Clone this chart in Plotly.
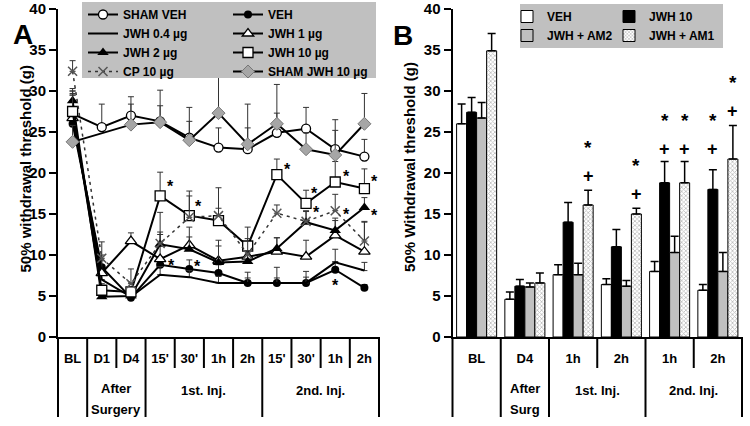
import plotly.graph_objects as go

FONT = "Liberation Sans"

# ---------------- Panel A data ----------------
time_labels = ["BL", "D1", "D4", "15'", "30'", "1h", "2h", "15'", "30'", "1h", "2h"]
group_labels_a = ["After", "Surgery", "1st. Inj.", "2nd. Inj."]

sham_veh = [27.2, 25.6, 27.0, 26.3, 24.3, 23.1, 22.9, 24.9, 25.4, 22.9, 22.0]
sham_veh_err = [2.8, 2.8, 2.3, 1.9, 2.0, 2.4, 2.6, 2.4, 2.6, 3.6, 2.1]
veh = [26.0, 8.5, 4.8, 8.8, 8.3, 7.8, 6.6, 6.6, 6.6, 8.2, 6.0]
veh_err = [3.5, 1.5, 0.5, 1.0, 1.1, 1.0, 1.3, 1.9, 1.4, 1.0, 0.4]
jwh04 = [27.0, 7.0, 4.9, 7.6, 7.3, 6.6, 6.6, 6.6, 6.6, 9.1, 8.1]
jwh04_err = [2.5, 1.0, 0.5, 1.0, 0.8, 0.8, 0.6, 0.6, 0.7, 1.6, 1.0]
jwh1 = [26.7, 7.8, 11.7, 9.5, 11.2, 9.3, 9.8, 10.4, 9.8, 12.4, 10.4]
jwh1_err = [3.0, 1.5, 1.0, 3.0, 2.2, 2.5, 1.5, 1.7, 2.0, 1.8, 3.7]
jwh2 = [28.8, 4.9, 5.0, 11.3, 10.7, 9.1, 9.2, 10.8, 14.0, 13.0, 15.8]
jwh2_err = [1.5, 0.5, 0.4, 1.5, 1.5, 2.0, 1.3, 1.3, 1.3, 1.5, 1.2]
jwh10 = [27.5, 5.7, 5.5, 17.2, 14.8, 14.2, 11.1, 19.8, 16.3, 18.9, 18.1]
jwh10_err = [2.5, 0.8, 0.6, 2.9, 3.0, 1.5, 2.3, 1.9, 1.6, 2.5, 2.4]
cp10 = [32.4, 9.6, 6.5, 11.4, 14.6, 14.8, 10.1, 15.1, 14.1, 15.4, 11.7]
cp10_err = [1.3, 2.0, 1.8, 3.8, 2.6, 3.4, 1.9, 1.0, 1.3, 2.0, 2.3]
sham_jwh = [23.8, None, 25.9, 26.2, 24.0, 27.3, 23.5, 26.0, 22.9, 22.2, 26.0]
sham_jwh_err = [2.0, 0, 2.5, 3.9, 4.0, 4.4, 4.9, 4.8, 2.0, 3.0, 3.7]

# significance asterisks in A: (series, time index, dx px, dy px (down +))
stars_a = [("jwh10", 3, 10, -13), ("jwh10", 4, 9, -13), ("veh", 3, 11, -3),
           ("veh", 4, 8, -6), ("jwh10", 7, 11, -9), ("jwh10", 8, 8, -13),
           ("jwh10", 9, 11, -9), ("jwh10", 10, 10, -11), ("cp10", 8, 10, -12),
           ("cp10", 9, 11, 0), ("jwh2", 10, 10, 5), ("veh", 9, 0, 12)]

# ---------------- Panel B data ----------------
b_labels = ["BL", "D4", "1h", "2h", "1h", "2h"]
b_veh = [26.0, 4.6, 7.6, 6.4, 8.0, 5.7]
b_veh_err = [2.4, 0.9, 1.2, 0.7, 1.2, 0.7]
b_jwh10 = [27.4, 6.2, 14.0, 11.0, 18.8, 18.0]
b_jwh10_err = [1.8, 0.8, 2.4, 2.1, 2.6, 2.4]
b_am2 = [26.7, 6.1, 7.6, 6.2, 10.3, 8.0]
b_am2_err = [1.9, 0.5, 1.4, 0.7, 2.0, 2.3]
b_am1 = [34.9, 6.6, 16.1, 15.0, 18.8, 21.7]
b_am1_err = [2.1, 1.2, 1.8, 0.7, 2.6, 4.1]

b_sig_group = [2, 3, 4, 4, 5, 5]
b_sig_bar = [3, 3, 1, 3, 1, 3]
b_plus_y = [19.6, 17.5, 22.9, 22.9, 22.9, 27.5]
b_star_y = [23.6, 21.4, 26.9, 26.9, 26.9, 31.5]

# ---------------- Layout geometry ----------------
W, H = 750, 426
def px_x(p): return p / W
def px_y(p): return (H - p) / H

AX_TOP, AX_BOT = 9, 337
A_L, A_R = 58, 379
B_L, B_R = 452.5, 742

fig = go.Figure()

xa = list(range(len(time_labels)))
ERR = dict(type="data", symmetric=False, color="#333", thickness=1, width=3)

def add_line(name, ys, err, marker, line, legend):
    fig.add_trace(go.Scatter(
        x=xa, y=ys, name=name, mode="lines+markers" if marker else "lines",
        marker=marker, line=line, connectgaps=True, cliponaxis=False,
        error_y=dict(ERR, array=err, arrayminus=[0] * len(err)),
        xaxis="x", yaxis="y", legend=legend))

BL = dict(color="black", width=2)
add_line("SHAM VEH", sham_veh, sham_veh_err,
         dict(symbol="circle", size=9, color="white", line=dict(color="black", width=1.3)), BL, "legend")
add_line("VEH", veh, veh_err, dict(symbol="circle", size=8, color="black"), BL, "legend3")
add_line("JWH 0.4 µg", jwh04, jwh04_err, None, BL, "legend")
add_line("JWH 1 µg", jwh1, jwh1_err,
         dict(symbol="triangle-up", size=10, color="white", line=dict(color="black", width=1.3)), BL, "legend3")
add_line("JWH 2 µg", jwh2, jwh2_err, dict(symbol="triangle-up", size=10, color="black"), BL, "legend")
add_line("JWH 10 µg", jwh10, jwh10_err,
         dict(symbol="square", size=10, color="white", line=dict(color="black", width=1.3)), BL, "legend3")
add_line("CP 10 µg", cp10, cp10_err,
         dict(symbol="x-thin", size=9, color="#555", line=dict(color="#555", width=1.5)),
         dict(color="#333", width=1.5, dash="3px,4px"), "legend")
add_line("SHAM JWH 10 µg", sham_jwh, sham_jwh_err,
         dict(symbol="diamond", size=10, color="#a6a6a6", line=dict(color="#777", width=1)), BL, "legend3")

# ---------------- Panel B bars ----------------
xb = list(range(len(b_labels)))
BARGAP = 0.17
bw = (1 - BARGAP) / 4
bar_specs = [
    ("VEH", b_veh, b_veh_err, dict(color="white", line=dict(color="black", width=1)), "legend2"),
    ("JWH 10", b_jwh10, b_jwh10_err, dict(color="black", line=dict(color="black", width=1)), "legend4"),
    ("JWH + AM2", b_am2, b_am2_err, dict(color="#c0c0c0", line=dict(color="black", width=1)), "legend2"),
    ("JWH + AM1", b_am1, b_am1_err, dict(color="white", line=dict(color="black", width=1),
                                          pattern=dict(shape="x", size=3, solidity=0.45,
                                                       fgcolor="#777", bgcolor="white")), "legend4"),
]
for name, ys, err, mk, lg in bar_specs:
    fig.add_trace(go.Bar(
        x=xb, y=ys, name=name, marker=mk, xaxis="x2", yaxis="y2", legend=lg,
        error_y=dict(type="data", symmetric=False, array=err, arrayminus=[0] * len(err),
                     color="black", thickness=1.5, width=4)))

# ---------------- Axes ----------------
ydom = [px_y(AX_BOT), px_y(AX_TOP)]
tickfont = dict(family=FONT, size=15, color="black", weight="bold")
xtickfont = dict(family=FONT, size=13, color="black", weight="bold")
common_y = dict(range=[0, 40], dtick=5, showgrid=False, zeroline=False, showline=True,
                linecolor="black", linewidth=2, ticks="outside", ticklen=7, tickwidth=1.5,
                tickcolor="black", tickfont=tickfont, domain=ydom, automargin=False)
common_x = dict(showgrid=False, zeroline=False, showline=True, linecolor="black", linewidth=2,
                ticks="", tickfont=xtickfont, automargin=False, ticklabelstandoff=8)

lfont = dict(family=FONT, size=12, color="black", weight="bold")
def legend_at(xp, yp):
    return dict(orientation="v", x=px_x(xp), y=px_y(yp), xanchor="left", yanchor="top",
                bgcolor="rgba(0,0,0,0)", traceorder="normal", itemwidth=30,
                borderwidth=0, font=lfont)

fig.update_layout(
    width=W, height=H, margin=dict(l=0, r=0, t=0, b=0, autoexpand=False),
    paper_bgcolor="white", plot_bgcolor="white",
    font=dict(family=FONT, color="black"),
    bargap=BARGAP, bargroupgap=0, barmode="group",
    xaxis=dict(common_x, domain=[px_x(A_L), px_x(A_R)], range=[-0.5, len(xa) - 0.5],
               tickvals=xa, ticktext=time_labels, anchor="y"),
    yaxis=dict(common_y, anchor="x"),
    xaxis2=dict(common_x, domain=[px_x(B_L), px_x(B_R)], range=[-0.5, len(xb) - 0.5],
                tickvals=xb, ticktext=b_labels, anchor="y2"),
    yaxis2=dict(common_y, anchor="x2"),
    legend=legend_at(83, 0),
    legend3=legend_at(228, 0),
    legend2=legend_at(507, 2),
    legend4=legend_at(609, 2),
    showlegend=True,
)

# ---------------- Shapes: legend boxes + separators ----------------
shapes = [
    dict(type="rect", xref="paper", yref="paper", x0=px_x(82), x1=px_x(376),
         y0=px_y(78), y1=px_y(2), fillcolor="#c0c0c0", line=dict(width=0), layer="above"),
    dict(type="rect", xref="paper", yref="paper", x0=px_x(520), x1=px_x(723),
         y0=px_y(48), y1=px_y(4), fillcolor="#c0c0c0", line=dict(width=0), layer="above"),
]
def seps(xref, n, longs):
    for k in range(n + 1):
        y1 = px_y(417) if k in longs else px_y(368)
        shapes.append(dict(type="line", xref=xref, yref="paper", x0=k / n, x1=k / n,
                           y0=px_y(AX_BOT), y1=y1, line=dict(color="black", width=2)))
seps("x domain", len(xa), {0, 1, 3, 7, 11})
seps("x2 domain", len(xb), {0, 1, 2, 4, 6})
fig.update_layout(shapes=shapes)

# ---------------- Annotations ----------------
ann = []
gfont = dict(family=FONT, size=13, color="black", weight="bold")
def lab(text, x, xref, ypx):
    ann.append(dict(text=text, x=x, xref=xref, y=px_y(ypx), yref="paper",
                    showarrow=False, font=gfont, xanchor="center", yanchor="middle"))
lab(group_labels_a[0], 1.5, "x", 388)
lab(group_labels_a[1], 1.5, "x", 409)
lab(group_labels_a[2], 4.5, "x", 390)
lab(group_labels_a[3], 8.5, "x", 390)
lab("After", 1, "x2", 388)
lab("Surg", 1, "x2", 409)
lab("1st. Inj.", 2.5, "x2", 390)
lab("2nd. Inj.", 4.5, "x2", 390)

for t, xp, yp in [("A", 11, 17), ("B", 403, 18)]:
    ann.append(dict(text=t, x=px_x(xp), y=px_y(yp), xref="paper", yref="paper",
                    showarrow=False, font=dict(family=FONT, size=28, color="black", weight="bold")))

for t, xp, yp in [("50% withdrawal threshold (g)", 15, 169), ("50% Withdrawal threshold (g)", 409, 167)]:
    ann.append(dict(text=t, x=px_x(xp), y=px_y(yp), xref="paper", yref="paper", textangle=-90,
                    showarrow=False, font=dict(family=FONT, size=15, color="black", weight="bold")))

series_map = {"veh": veh, "jwh10": jwh10, "cp10": cp10, "jwh2": jwh2}
for s, i, dx, dy in stars_a:
    ann.append(dict(text="*", x=xa[i], y=series_map[s][i], xref="x", yref="y", showarrow=False,
                    xshift=dx, yshift=-(dy + 3.5),
                    font=dict(family=FONT, size=16, color="black", weight="bold")))

for g, b, py, sy in zip(b_sig_group, b_sig_bar, b_plus_y, b_star_y):
    xx = xb[g] + (b - 1.5) * bw
    ann.append(dict(text="+", x=xx, y=py, xref="x2", yref="y2", showarrow=False,
                    font=dict(family=FONT, size=18, color="black", weight="bold")))
    ann.append(dict(text="*", x=xx, y=sy, xref="x2", yref="y2", showarrow=False, yshift=-4,
                    font=dict(family=FONT, size=19, color="black", weight="bold")))

fig.update_layout(annotations=ann)

fig.write_html("out.html", config={"displayModeBar": False},
               post_script="document.body.style.margin='0';document.body.style.padding='0';"
                           "document.body.style.overflow='hidden';")
